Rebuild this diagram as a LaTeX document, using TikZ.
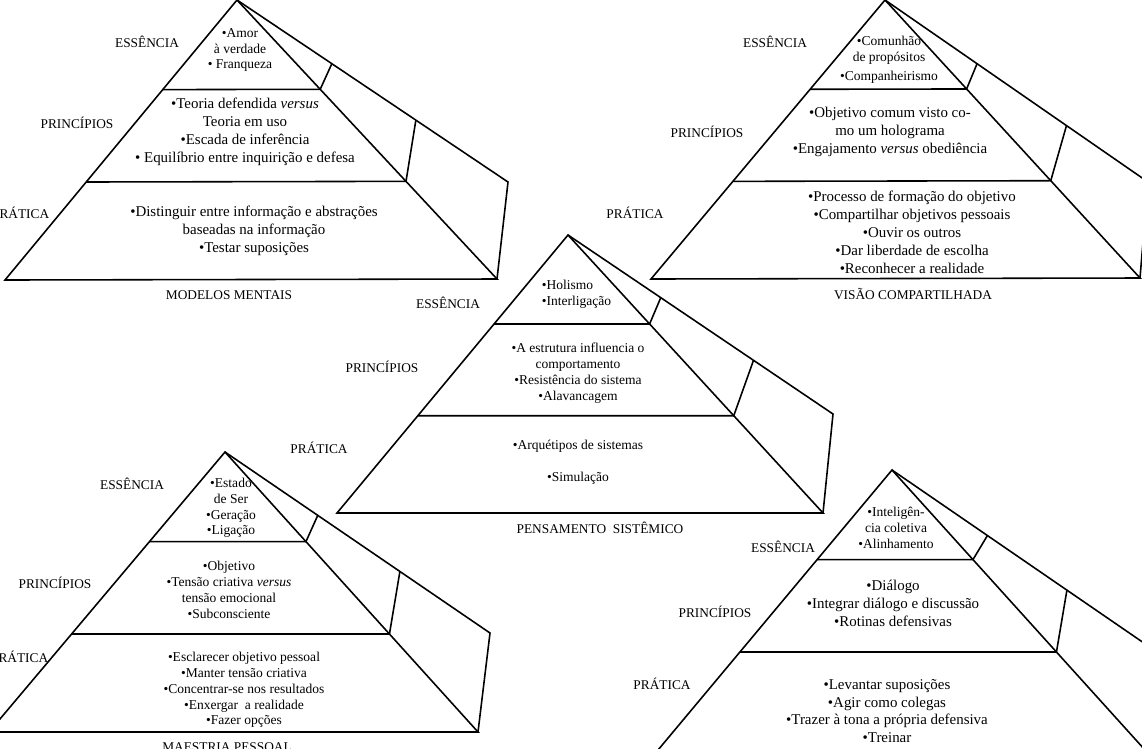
\documentclass[tikz,border=0pt]{standalone}
\usepackage{fontspec}
\setmainfont{Liberation Serif}
\usetikzlibrary{calc}

\begin{document}
\begin{tikzpicture}[x=0.02cm, y=-0.02cm, line width=0.9pt,
	lbl/.style={font=\fontsize{7.6}{9}\selectfont, inner sep=0pt},
	bigtxt/.style={align=center, font=\fontsize{8.5}{10.2}\selectfont, inner sep=0pt},
	smalltxt/.style={align=center, font=\fontsize{7.7}{9}\selectfont, inner sep=0pt}]
					\useasboundingbox (0, 0) rectangle (1142, 748);
					\clip (0, 0) rectangle (1142, 748);

					\coordinate (mmA) at (237, 0);
					\coordinate (mmL) at (5, 280);
					\coordinate (mmR) at (497, 279);
					\coordinate (mmB) at (508, 182);
					\draw (mmA) -- (mmL) -- (mmR) -- cycle;
					\draw (mmA) -- (mmB) -- (mmR);
					\draw ($(mmA)!.32!(mmL)$) -- ($(mmA)!.32!(mmR)$) -- ($(mmA)!.35!(mmB)$);
					\draw ($(mmA)!.65!(mmL)$) -- ($(mmA)!.65!(mmR)$) -- ($(mmA)!.66!(mmB)$);
					\node[smalltxt] (mmEss) at (240, 50) {•Amor\\à verdade\\• Franqueza};
					\node[bigtxt] (mmPri) at (245, 132) {•Teoria defendida \textit{versus}\\Teoria em uso\\•Escada de inferência\\• Equilíbrio entre inquirição e defesa};
					\node[bigtxt] (mmPra) at (254, 231) {•Distinguir entre informação e abstrações\\baseadas na informação\\•Testar suposições};
					\node[lbl] (mmE) at (147, 42) {ESSÊNCIA};
					\node[lbl] (mmP) at (77, 123) {PRINCÍPIOS};
					\node[lbl, anchor=east] (mmT) at (50, 213) {PRÁTICA};
					\node[lbl] (mmTitle) at (229, 295) {MODELOS MENTAIS};

					\coordinate (vcA) at (885, 0);
					\coordinate (vcL) at (651, 279);
					\coordinate (vcR) at (1140, 278);
					\coordinate (vcB) at (1148, 182);
					\draw (vcA) -- (vcL) -- (vcR) -- cycle;
					\draw (vcA) -- (vcB) -- (vcR);
					\draw ($(vcA)!.32!(vcL)$) -- ($(vcA)!.32!(vcR)$) -- ($(vcA)!.35!(vcB)$);
					\draw ($(vcA)!.65!(vcL)$) -- ($(vcA)!.65!(vcR)$) -- ($(vcA)!.69!(vcB)$);
					\node[smalltxt] (vcEss) at (889, 60) {•Comunhão\\de propósitos\\[2pt]•Companheirismo};
					\node[bigtxt] (vcPri) at (890, 132) {•Objetivo comum visto co-\\mo um holograma\\•Engajamento \textit{versus} obediência};
					\node[bigtxt] (vcPra) at (912, 232) {•Processo de formação do objetivo\\•Compartilhar objetivos pessoais\\•Ouvir os outros\\•Dar liberdade de escolha\\•Reconhecer a realidade};
					\node[lbl] (vcE) at (775, 42) {ESSÊNCIA};
					\node[lbl] (vcP) at (707, 132) {PRINCÍPIOS};
					\node[lbl] (vcT) at (635, 213) {PRÁTICA};
					\node[lbl] (vcTitle) at (913, 294) {VISÃO COMPARTILHADA};

					\coordinate (psA) at (568, 235);
					\coordinate (psL) at (337, 513);
					\coordinate (psR) at (823, 513);
					\coordinate (psB) at (833, 414);
					\draw (psA) -- (psL) -- (psR) -- cycle;
					\draw (psA) -- (psB) -- (psR);
					\draw ($(psA)!.32!(psL)$) -- ($(psA)!.32!(psR)$) -- ($(psA)!.35!(psB)$);
					\draw ($(psA)!.65!(psL)$) -- ($(psA)!.65!(psR)$) -- ($(psA)!.70!(psB)$);
					\node[smalltxt, align=left, anchor=west] (psEss) at (541, 294) {•Holismo\\•Interligação};
					\node[smalltxt] (psPri) at (578, 373) {•A estrutura influencia o\\comportamento\\•Resistência do sistema\\•Alavancagem};
					\node[smalltxt] (psPra) at (578, 462) {•Arquétipos de sistemas\\[9pt]•Simulação};
					\node[lbl] (psE) at (448, 303) {ESSÊNCIA};
					\node[lbl] (psP) at (382, 367) {PRINCÍPIOS};
					\node[lbl] (psT) at (319, 448) {PRÁTICA};
					\node[lbl] (psTitle) at (600, 528) {PENSAMENTO\ \ SISTÊMICO};

					\coordinate (mpA) at (225, 452);
					\coordinate (mpL) at (-11, 732);
					\coordinate (mpR) at (478, 732);
					\coordinate (mpB) at (490, 633);
					\draw (mpA) -- (mpL) -- (mpR) -- cycle;
					\draw (mpA) -- (mpB) -- (mpR);
					\draw ($(mpA)!.32!(mpL)$) -- ($(mpA)!.32!(mpR)$) -- ($(mpA)!.35!(mpB)$);
					\draw ($(mpA)!.65!(mpL)$) -- ($(mpA)!.65!(mpR)$) -- ($(mpA)!.66!(mpB)$);
					\node[smalltxt] (mpEss) at (231, 508) {•Estado\\de Ser\\•Geração\\•Ligação};
					\node[smalltxt] (mpPri) at (229, 590) {•Objetivo\\•Tensão criativa \textit{versus}\\tensão emocional\\•Subconsciente};
					\node[smalltxt] (mpPra) at (244, 690) {•Esclarecer objetivo pessoal\\•Manter tensão criativa\\•Concentrar-se nos resultados\\•Enxergar\ \ a realidade\\•Fazer opções};
					\node[lbl] (mpE) at (132, 484) {ESSÊNCIA};
					\node[lbl] (mpP) at (55, 583) {PRINCÍPIOS};
					\node[lbl, anchor=east] (mpT) at (49, 657) {PRÁTICA};
					\node[lbl] (mpTitle) at (227, 747) {MAESTRIA PESSOAL};

					\coordinate (aeA) at (892, 470);
					\coordinate (aeL) at (658, 750);
					\coordinate (aeR) at (1145, 750);
					\coordinate (aeB) at (1157, 652);
					\draw (aeA) -- (aeL) -- (aeR) -- cycle;
					\draw (aeA) -- (aeB) -- (aeR);
					\draw ($(aeA)!.32!(aeL)$) -- ($(aeA)!.32!(aeR)$) -- ($(aeA)!.36!(aeB)$);
					\draw ($(aeA)!.65!(aeL)$) -- ($(aeA)!.65!(aeR)$) -- ($(aeA)!.66!(aeB)$);
					\node[smalltxt] (aeEss) at (896, 528) {•Inteligên-\\cia coletiva\\•Alinhamento};
					\node[bigtxt] (aePri) at (893, 603) {•Diálogo\\•Integrar diálogo e discussão\\•Rotinas defensivas};
					\node[bigtxt] (aePra) at (887, 711) {•Levantar suposições\\•Agir como colegas\\•Trazer à tona a própria defensiva\\•Treinar};
					\node[lbl] (aeE) at (783, 547) {ESSÊNCIA};
					\node[lbl] (aeP) at (715, 612) {PRINCÍPIOS};
					\node[lbl] (aeT) at (662, 684) {PRÁTICA};
				\end{tikzpicture}
\end{document}
